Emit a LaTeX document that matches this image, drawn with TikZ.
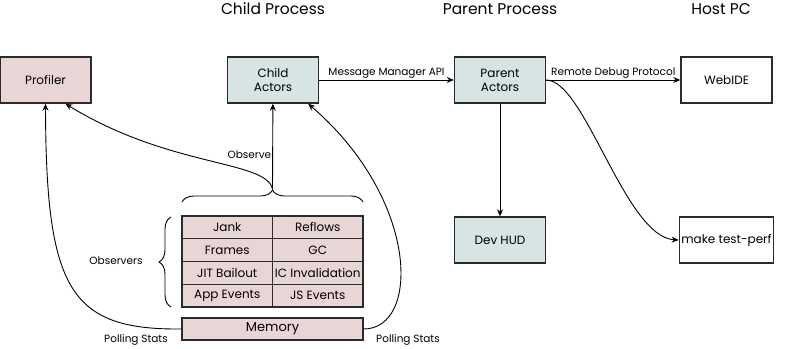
\documentclass[tikz,border=0pt]{standalone}
\usepackage{fontspec}
\setmainfont{Poppins}
\usetikzlibrary{arrows.meta,decorations.pathreplacing}
\definecolor{pinkfill}{HTML}{E8D6D6}
\definecolor{bluefill}{HTML}{D6E4E4}
\definecolor{edge}{HTML}{2B2B2B}
\begin{document}
\begin{tikzpicture}[x=1pt, y=-1pt,
  box/.style={draw=edge, line width=1.4pt, minimum width=91pt, minimum height=46pt, align=center, inner sep=2pt, font=\fontsize{12}{14}\selectfont},
  cell/.style={draw=edge, line width=1.4pt, fill=pinkfill, minimum width=90.5pt, minimum height=22.75pt, inner sep=0pt, font=\fontsize{12}{14}\selectfont},
  title/.style={font=\fontsize{15.5}{18}\selectfont},
  lbl/.style={font=\fontsize{10.5}{12}\selectfont, inner sep=1pt},
  arrow/.style={-{Stealth[length=7pt,width=6pt]}, line width=0.9pt},
  brace/.style={decorate, decoration={brace, amplitude=12pt}, line width=0.9pt}
]
\useasboundingbox (0,0) rectangle (800,348);
% column titles
\node[title] (tchild) at (273,9) {Child Process};
\node[title] (tparent) at (500,9) {Parent Process};
\node[title] (thost) at (721,9) {Host PC};
% boxes
\node[box, fill=pinkfill] (prof) at (45.5,80) {Profiler};
\node[box, fill=bluefill] (child) at (273,80) {Child\\Actors};
\node[box, fill=bluefill] (parent) at (500,80) {Parent\\Actors};
\node[box] (webide) at (726.5,80) {WebIDE};
\node[box, fill=bluefill] (hud) at (500,240) {Dev HUD};
\node[box] (perf) at (726.5,240) {make test-perf};
% observers
\node[cell] (c11) at (227.25,227.4) {Jank};
\node[cell] (c12) at (317.75,227.4) {Reflows};
\node[cell] (c21) at (227.25,250.1) {Frames};
\node[cell] (c22) at (317.75,250.1) {GC};
\node[cell] (c31) at (227.25,272.9) {JIT Bailout};
\node[cell] (c32) at (317.75,272.9) {IC Invalidation};
\node[cell] (c41) at (227.25,295.6) {App Events};
\node[cell] (c42) at (317.75,295.6) {JS Events};
\node[cell, minimum width=181pt, minimum height=22pt, font=\fontsize{13}{15}\selectfont] (mem) at (272.5,329) {Memory};
% braces
\draw[brace] (171,307) -- (171,217);
\node[lbl] (obsrs) at (116,261) {Observers};
\draw[brace] (182,202) -- (363,202);
\coordinate (obs) at (272.5,189);
% connectors
\draw[arrow] (child) -- node[lbl, above] {Message Manager API} (parent);
\draw[arrow] (parent) -- node[lbl, above] {Remote Debug Protocol} (webide);
\draw[arrow] (parent) -- (hud);
\draw[arrow] (parent.east) .. controls (585,80) and (625,237) .. (perf.west);
\draw[arrow] (obs) -- node[lbl, left, pos=0.4] {Observe} (child);
\draw[arrow] (obs) .. controls (266,160) and (170,168) .. (prof.-50);
\draw[arrow] (mem.west) .. controls (70,330) and (46,290) .. (prof.south);
\draw[arrow] (mem.east) .. controls (420,329) and (420,200) .. (child.-34);
\node[lbl] (poll1) at (136,340) {Polling Stats};
\node[lbl] (poll2) at (408,340) {Polling Stats};
\end{tikzpicture}
\end{document}
